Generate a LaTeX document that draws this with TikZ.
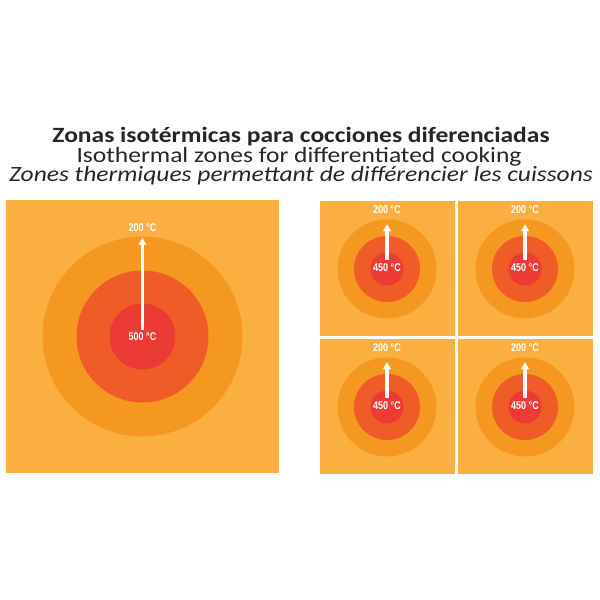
\documentclass[tikz,border=0pt]{standalone}
\usepackage{fontspec}
\setmainfont{Carlito}
\newfontfamily\headfont[FakeStretch=1.17]{Carlito}
\newfontfamily\tempfont[FakeStretch=0.8]{Liberation Sans}
\usetikzlibrary{arrows.meta}
\definecolor{HeatBg}{RGB}{250,175,64}
\definecolor{HeatOuter}{RGB}{245,152,34}
\definecolor{HeatMid}{RGB}{240,92,40}
\definecolor{HeatCore}{RGB}{236,58,52}
\tikzset{
	plate/.style={fill=HeatBg,draw=none},
	temp/.style={text=white,font=\tempfont\bfseries\fontsize{8}{8}\selectfont,inner sep=2pt},
	flow/.style={draw=white,line width=2.2pt,-{Triangle[length=5pt,width=5.5pt]}},
	head/.style={anchor=base,inner sep=0pt,font=\headfont\fontsize{15.5}{15.5}\selectfont,text=black!85},
}
\begin{document}
\begin{tikzpicture}[x=0.025cm,y=-0.025cm]
	\useasboundingbox (0,0) rectangle (600,600);
	% titles
	\node[head,font=\headfont\fontsize{15.5}{15.5}\selectfont\bfseries] (titlees) at (301,142) {Zonas isotérmicas para cocciones diferenciadas};
	\node[head] (titleen) at (299,162) {Isothermal zones for differentiated cooking};
	\node[head,font=\headfont\fontsize{15.5}{15.5}\selectfont\itshape] (titlefr) at (301,181) {Zones thermiques permettant de différencier les cuissons};
	% single large zone
	\fill[plate] (6,200) rectangle (279,473);
	\coordinate (bigc) at (142.5,336.5);
	\fill[HeatOuter] (bigc) circle (100);
	\fill[HeatMid] (bigc) circle (66);
	\fill[HeatCore] (bigc) circle (33);
	\node[temp] (bighot) at (142.5,337) {500 °C};
	\node[temp] (bigcool) at (142.5,228) {200 °C};
	\draw[flow,shorten >=2pt] (bighot) -- (bigcool);
	% four small zones
	\foreach \cx/\cy/\nm in {387/268/a,525/268/b,387/406/c,525/406/d}{
		\fill[plate] (\cx-67.5,\cy-67.5) rectangle (\cx+67.5,\cy+67.5);
		\coordinate (c\nm) at (\cx,\cy+1);
		\fill[HeatOuter] (c\nm) circle (49.5);
		\fill[HeatMid] (c\nm) circle (33);
		\fill[HeatCore] (c\nm) circle (16.5);
		\node[temp] (hot\nm) at (\cx,\cy) {450 °C};
		\node[temp] (cool\nm) at (\cx,\cy-58) {200 °C};
		\draw[flow,shorten >=5pt,shorten <=1pt] (hot\nm) -- (cool\nm);
	}
\end{tikzpicture}
\end{document}
